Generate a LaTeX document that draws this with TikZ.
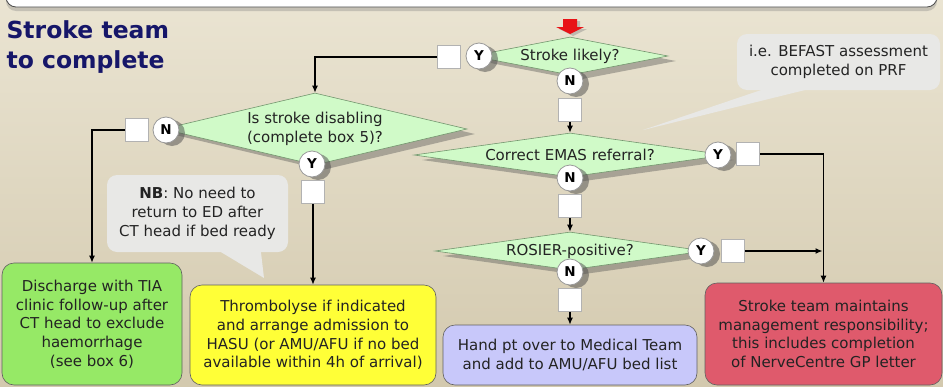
\documentclass[tikz,border=0pt]{standalone}
\usepackage{fontspec}
\setmainfont{DejaVu Sans}
\usetikzlibrary{shapes.geometric,shadows,arrows.meta,calc}
\definecolor{bgtop}{RGB}{234,228,210}
\definecolor{bgbot}{RGB}{211,201,174}
\definecolor{titleblue}{RGB}{22,22,105}
\definecolor{diafill}{RGB}{208,250,200}
\definecolor{diaborder}{RGB}{115,150,110}
\definecolor{txtdark}{RGB}{35,35,35}
\definecolor{callfill}{RGB}{232,232,230}
\definecolor{boxgreen}{RGB}{150,233,102}
\definecolor{boxyellow}{RGB}{255,255,55}
\definecolor{boxblue}{RGB}{200,200,250}
\definecolor{boxred}{RGB}{223,90,108}
\definecolor{startred}{RGB}{232,18,22}
\newcommand{\bodytxt}{\fontsize{15}{18.7}\selectfont}
\begin{document}
\begin{tikzpicture}[x=1pt,y=-1pt,
  dia/.style={diamond, draw=diaborder, fill=diafill, line width=0.6pt, inner sep=0pt,
    align=center, font=\bodytxt, text=txtdark,
    drop shadow={shadow xshift=8pt, shadow yshift=-5pt, opacity=0.38, fill=black!70}},
  yn/.style={circle, draw=gray!80, fill=white, line width=0.8pt, minimum size=26pt,
    inner sep=0pt, font=\bfseries\fontsize{13.5}{13.5}\selectfont, text=black,
    drop shadow={shadow xshift=6pt, shadow yshift=-3pt, opacity=0.5, fill=black!70}},
  sq/.style={rectangle, draw=gray!60, fill=white, line width=0.6pt, minimum size=23pt, inner sep=0pt},
  box/.style={rectangle, rounded corners=12pt, draw=gray!75!black, line width=0.6pt,
    align=center, font=\bodytxt, text=txtdark, inner sep=0pt},
  callbox/.style={rectangle, rounded corners=10pt, fill=callfill, align=center,
    font=\bodytxt, text=txtdark, inner sep=0pt},
  arr/.style={-{Latex[length=7pt,width=6pt]}, line width=1.2pt},
  titletxt/.style={anchor=base west, font=\bfseries\fontsize{23.5}{30}\selectfont, text=titleblue}
]
\useasboundingbox (0,0) rectangle (943,386);
\shade[top color=bgtop, bottom color=bgbot] (0,0) rectangle (943,386);

% top bar
\node[draw=gray!60!black, fill=white, rounded corners=10pt, line width=0.8pt,
  minimum width=931pt, minimum height=40pt, inner sep=0pt,
  drop shadow={shadow xshift=0pt, shadow yshift=-4pt, opacity=0.35}] (topbar) at (471.5,-13) {};

% title
\node[titletxt] (t1) at (3,38) {Stroke team};
\node[titletxt] (t2) at (3,68) {to complete};

% callouts
\coordinate (tipbf) at (643,130);
\coordinate (tipnb) at (264,278);
\node[callbox, minimum width=203pt, minimum height=56pt] (bf) at (838.5,62)
  {i.e. BEFAST assessment\\completed on PRF};
\fill[callfill] ([xshift=-66pt,yshift=4pt]bf.south) -- (tipbf) -- ([xshift=-18pt,yshift=4pt]bf.south) -- cycle;
\node[callbox, minimum width=181pt, minimum height=77pt] (nb) at (197.5,213.5)
  {\textbf{NB}: No need to\\return to ED after\\CT head if bed ready};
\fill[callfill] ([xshift=17pt,yshift=4pt]nb.south) -- (tipnb) -- ([xshift=63pt,yshift=4pt]nb.south) -- cycle;

% start arrow
\coordinate (start) at (570,34);
\fill[startred, drop shadow={shadow xshift=3pt, shadow yshift=-2pt, opacity=0.4}]
  (563,19) -- (577,19) -- (577,27) -- (584,27) -- (start) -- (556,27) -- (563,27) -- cycle;

% decisions
\node[dia, shape aspect=5.16, minimum width=196pt, minimum height=38pt] (d1) at (570,56) {Stroke likely?};
\node[dia, shape aspect=4.22, minimum width=304pt, minimum height=72pt] (d2) at (315,129) {Is stroke disabling\\(complete box 5)?};
\node[dia, shape aspect=7.09, minimum width=312pt, minimum height=44pt] (d3) at (570,155) {Correct EMAS referral?};
\node[dia, shape aspect=7.1, minimum width=270pt, minimum height=38pt] (d4) at (570,251) {ROSIER-positive?};

% outcome boxes
\node[box, fill=boxgreen, minimum width=180pt, minimum height=122pt] (green) at (92,324)
  {Discharge with TIA\\clinic follow-up after\\CT head to exclude\\haemorrhage\\(see box 6)};
\node[box, fill=boxyellow, minimum width=246pt, minimum height=100pt] (yellow) at (313,335)
  {Thrombolyse if indicated\\and arrange admission to\\HASU (or AMU/AFU if no bed\\available within 4h of arrival)};
\node[box, fill=boxblue, minimum width=254pt, minimum height=60pt] (blue) at (570,355)
  {Hand pt over to Medical Team\\and add to AMU/AFU bed list};
\node[box, fill=boxred, minimum width=237pt, minimum height=102pt] (red) at (823.5,334)
  {Stroke team maintains\\management responsibility;\\this includes completion\\of NerveCentre GP letter};

% Y/N circles
\node[yn] (y1) at (479,56) {Y};
\node[yn] (n1) at (570,81) {N};
\node[yn] (n2) at (166,130) {N};
\node[yn] (y2) at (312,164) {Y};
\node[yn] (y3) at (718,155) {Y};
\node[yn] (n3) at (570,178) {N};
\node[yn] (y4) at (701,251) {Y};
\node[yn] (n4) at (570,272) {N};

% tick squares
\node[sq] (s1) at (449,57) {};
\node[sq] (s2) at (570,110) {};
\node[sq] (s3) at (137,130) {};
\node[sq] (s4) at (313,192) {};
\node[sq] (s5) at (748,154) {};
\node[sq] (s6) at (570,206) {};
\node[sq] (s7) at (733,251) {};
\node[sq] (s8) at (570,300) {};

% connectors
\draw[arr] (s1.west) -| (d2.north);
\draw[arr] (s2.south) -- (d3.north);
\draw[arr] (s3.west) -| (green.north);
\draw[arr] (s4.south) -- (yellow.north);
\draw[arr] (s5.east) -| (red.north);
\draw[arr] (s6.south) -- (d4.north);
\draw[arr] (s7.east) -- ([xshift=-1pt]s7.east -| red.north);
\draw[arr] (s8.south) -- (blue.north);
\end{tikzpicture}
\end{document}
